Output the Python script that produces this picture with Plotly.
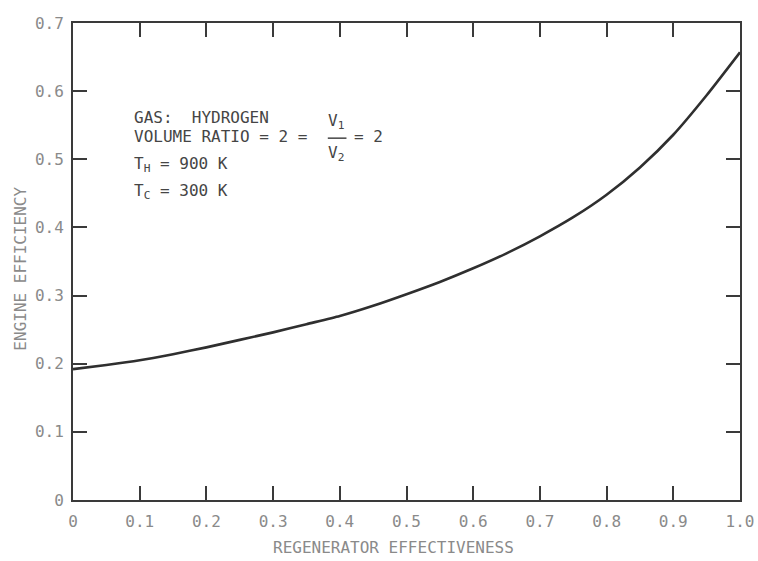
import plotly.graph_objects as go

# Data
effectiveness = [0.0, 0.05, 0.1, 0.15, 0.2, 0.25, 0.3, 0.35, 0.4, 0.45, 0.5,
                 0.55, 0.6, 0.65, 0.7, 0.75, 0.8, 0.85, 0.9, 0.95, 1.0]
efficiency = [0.192, 0.198, 0.205, 0.214, 0.224, 0.235, 0.246, 0.258, 0.270, 0.285, 0.302,
              0.320, 0.340, 0.362, 0.387, 0.415, 0.448, 0.488, 0.536, 0.594, 0.657]

x_ticks = [0, 0.1, 0.2, 0.3, 0.4, 0.5, 0.6, 0.7, 0.8, 0.9, 1.0]
x_tick_labels = ["0", "0.1", "0.2", "0.3", "0.4", "0.5", "0.6", "0.7", "0.8", "0.9", "1.0"]
y_ticks = [0, 0.1, 0.2, 0.3, 0.4, 0.5, 0.6, 0.7]
y_tick_labels = ["0", "0.1", "0.2", "0.3", "0.4", "0.5", "0.6", "0.7"]

FONT = "DejaVu Sans Mono, Liberation Mono, monospace"
TEXT = "#454545"
LIGHT = "#8a8a8a"
AXIS = "#3a3a3a"

fig = go.Figure()
fig.add_trace(go.Scatter(
    x=effectiveness, y=efficiency, mode="lines",
    line=dict(color="#2f2f2f", width=2.6, shape="spline", smoothing=0.6),
    hoverinfo="skip", showlegend=False,
))

axis_common = dict(
    showline=True, linecolor=AXIS, linewidth=2, mirror="allticks",
    ticks="inside", ticklen=14, tickwidth=1.5, tickcolor=AXIS,
    showgrid=False, zeroline=False, automargin=False,
    tickfont=dict(family=FONT, size=16, color=LIGHT),
)

fig.update_xaxes(range=[0, 1.0], tickvals=x_ticks, ticktext=x_tick_labels,
                 ticklabelstandoff=6, **axis_common)
fig.update_yaxes(range=[0, 0.7], tickvals=y_ticks, ticktext=y_tick_labels,
                 ticklabelstandoff=4, **axis_common)

ann_font = dict(family=FONT, size=16, color=TEXT)
annotations = [
    dict(text="GAS:  HYDROGEN", x=0.0885, y=0.561, xanchor="left", yanchor="middle"),
    dict(text="VOLUME RATIO = 2 =", x=0.0885, y=0.533, xanchor="left", yanchor="middle"),
    dict(text="V<sub>1</sub>", x=0.395, y=0.556, xanchor="center", yanchor="middle"),
    dict(text="V<sub>2</sub>", x=0.395, y=0.508, xanchor="center", yanchor="middle"),
    dict(text="= 2", x=0.418, y=0.533, xanchor="left", yanchor="middle"),
    dict(text="T<sub>H</sub> = 900 K", x=0.0885, y=0.493, xanchor="left", yanchor="middle"),
    dict(text="T<sub>C</sub> = 300 K", x=0.0885, y=0.452, xanchor="left", yanchor="middle"),
]
for a in annotations:
    fig.add_annotation(xref="x", yref="y", showarrow=False, font=ann_font, **a)

# fraction bar
fig.add_shape(type="line", xref="x", yref="y", x0=0.382, x1=0.410, y0=0.531, y1=0.531,
              line=dict(color=TEXT, width=1.5))

# axis titles
fig.add_annotation(text="REGENERATOR EFFECTIVENESS", xref="paper", yref="paper",
                   x=0.48, y=-0.1, xanchor="center", yanchor="middle", showarrow=False,
                   font=dict(family=FONT, size=16, color=LIGHT))
fig.add_annotation(text="ENGINE EFFICIENCY", xref="paper", yref="paper",
                   x=-0.078, y=0.485, xanchor="center", yanchor="middle", showarrow=False,
                   textangle=-90, font=dict(family=FONT, size=16, color=LIGHT))

fig.update_layout(
    width=758, height=561,
    margin=dict(l=73, r=18, t=23, b=61, autoexpand=False),
    paper_bgcolor="white", plot_bgcolor="white",
    showlegend=False,
)

fig.write_html("out.html", config={"displayModeBar": False},
               post_script="document.body.style.margin='0';document.body.style.overflow='hidden';")
